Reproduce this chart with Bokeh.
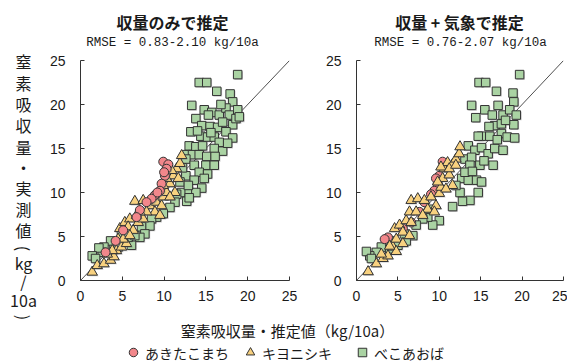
import math
from bokeh.plotting import figure
from bokeh.layouts import column, row
from bokeh.models import Range1d, ColumnDataSource
from bokeh.transform import dodge
from bokeh.embed import file_html
from bokeh.resources import INLINE
from bokeh.core.properties import value

# ---------------- data ----------------
SERIES = ["あきたこまち", "キヨニシキ", "べこあおば"]
PANEL_TITLES = ["収量のみで推定", "収量 + 気象で推定"]
PANEL_RMSE = ["RMSE = 0.83-2.10 kg/10a", "RMSE = 0.76-2.07 kg/10a"]
X_LABEL = "窒素吸収量・推定値（kg/10a）"
Y_LABEL_PARTS = ["窒", "素", "吸", "収", "量", "・", "実", "測", "値", "(", "kg", "/", "10a", ")"]
Y_LABEL_ROTATED = [False] * 9 + [True, False, False, False, True]
TICKS = [0, 5, 10, 15, 20, 25]
ONE_TO_ONE = [0, 25]

# left panel (yield only)
L_AKITA_X = [9.9, 10.5, 10.3, 10.1, 9.7, 9.5, 8.9, 8.5, 7.9, 7.1, 6.7, 5.1, 4.2, 3.0, 10.0, 9.2]
L_AKITA_Y = [13.5, 13.2, 12.7, 11.9, 11.0, 10.2, 9.7, 9.3, 8.9, 8.0, 7.2, 5.7, 4.5, 3.2, 12.3, 10.0]
L_KIYO_X = [1.4, 2.0, 2.8, 3.6, 4.0, 3.2, 4.3, 4.9, 5.5, 4.7, 5.3, 5.9, 5.7, 6.3, 6.9, 7.5, 6.5, 7.5,
            8.3, 8.5, 9.1, 8.9, 9.7, 9.9, 10.3, 10.7, 11.1, 11.5, 11.9, 11.7, 11.3, 10.7, 10.3, 7.9,
            7.1, 4.5, 3.8, 5.1, 5.9, 6.7, 9.5, 10.9, 12.1, 9.9]
L_KIYO_Y = [0.95, 1.7, 1.9, 2.3, 2.7, 3.0, 3.4, 3.8, 4.2, 5.9, 6.6, 7.0, 6.1, 5.7, 6.6, 7.0, 9.0, 9.1,
            8.5, 9.3, 8.9, 7.8, 8.5, 9.5, 10.0, 11.0, 11.9, 12.7, 13.3, 11.6, 10.0, 9.5, 11.6, 7.8,
            7.8, 4.7, 3.4, 4.7, 5.1, 7.4, 7.4, 12.5, 14.2, 10.8]
L_BEKO_X = [18.8, 14.2, 15.1, 16.3, 17.9, 18.2, 13.3, 14.8, 15.7, 16.6, 17.4, 18.8, 17.8, 13.8, 15.3,
            14.5, 15.5, 16.4, 18.2, 18.6, 17.4, 14.4, 15.2, 16.0, 18.2, 16.6, 13.0, 13.8, 14.6, 16.0,
            17.0, 12.6, 13.4, 14.2, 15.1, 16.1, 12.6, 13.6, 15.0, 16.0, 14.2, 15.2, 12.6, 13.6, 14.5,
            11.9, 12.1, 13.0, 13.8, 12.7, 13.0, 11.5, 11.3, 10.7, 9.9, 9.1, 8.5, 8.3, 7.3, 7.7, 7.1,
            6.1, 5.7, 4.9, 4.7, 4.0, 3.6, 2.8, 2.6, 2.2, 1.4, 1.8, 4.5, 5.5, 6.5, 17.0, 19.0, 12.2,
            14.8, 15.6, 17.6, 13.2, 14.0, 16.8, 12.9]
L_BEKO_Y = [23.4, 22.5, 22.5, 21.5, 21.2, 20.3, 19.9, 19.4, 19.1, 18.8, 19.6, 19.4, 18.8, 18.4, 18.8,
            17.6, 17.5, 17.4, 17.7, 18.4, 16.9, 16.4, 16.3, 16.3, 16.2, 15.7, 15.3, 15.2, 15.3, 15.0,
            14.7, 14.3, 14.3, 14.3, 14.1, 14.1, 13.8, 13.1, 13.1, 13.1, 12.3, 12.1, 11.9, 11.4, 10.5,
            11.2, 10.0, 10.0, 10.0, 9.0, 9.4, 9.8, 8.9, 8.3, 7.6, 7.2, 7.0, 6.2, 6.1, 5.3, 4.9,
            4.0, 4.9, 5.3, 4.4, 4.0, 4.5, 3.8, 3.2, 3.7, 2.8, 2.5, 3.8, 5.5, 5.1, 18.0, 18.6, 12.8,
            11.6, 16.8, 15.6, 16.9, 17.0, 20.0, 10.8]

# right panel (yield + weather)
R_AKITA_X = [10.4, 10.0, 9.8, 9.4, 9.0, 8.2, 7.6, 6.6, 5.6, 3.8, 3.4, 9.6]
R_AKITA_Y = [13.5, 11.9, 11.0, 10.2, 9.8, 8.9, 7.8, 6.6, 5.9, 4.9, 4.7, 11.6]
R_KIYO_X = [1.4, 2.4, 3.2, 3.8, 3.0, 4.4, 4.8, 4.6, 5.2, 6.0, 5.6, 6.6, 6.4, 7.2, 6.6, 7.4, 8.2, 9.0,
            8.6, 9.6, 10.0, 10.2, 10.4, 10.6, 11.0, 11.6, 12.0, 12.4, 12.5, 11.2, 11.6, 10.8, 9.8,
            10.2, 9.4, 8.0, 5.6, 4.8, 4.0, 6.4, 11.2, 12.0]
R_KIYO_Y = [1.0, 1.9, 2.5, 2.8, 3.0, 3.8, 4.7, 5.9, 6.3, 6.8, 5.5, 6.6, 7.8, 7.8, 9.1, 9.3, 9.1, 9.5,
            8.1, 8.5, 9.9, 10.6, 11.6, 12.7, 13.4, 13.2, 13.8, 14.4, 15.2, 12.0, 10.8, 10.4, 11.2,
            12.9, 7.8, 7.4, 4.2, 3.3, 3.9, 5.1, 12.7, 13.1]
R_BEKO_X = [19.7, 14.8, 15.6, 16.9, 18.9, 19.0, 13.9, 14.4, 15.5, 16.4, 17.1, 17.7, 18.5, 19.3, 16.7,
            17.5, 19.0, 15.1, 16.1, 14.7, 17.5, 18.2, 19.1, 13.5, 14.3, 15.1, 15.9, 16.7, 17.7, 13.1,
            13.9, 14.9, 16.5, 13.7, 12.7, 13.5, 14.5, 15.1, 14.7, 12.5, 13.7, 12.8, 11.6, 10.0, 9.2,
            8.6, 8.0, 7.2, 6.8, 6.0, 5.8, 5.0, 4.0, 4.0, 3.0, 2.4, 1.6, 1.2, 1.8, 8.8, 12.0, 13.1,
            16.0, 18.0, 15.4, 17.0, 14.0]
R_BEKO_Y = [23.4, 22.5, 22.5, 21.5, 21.3, 20.3, 19.9, 18.5, 19.4, 18.8, 19.9, 18.8, 19.4, 18.8, 17.6,
            17.8, 17.7, 16.4, 16.4, 16.4, 16.7, 16.3, 16.2, 15.3, 14.8, 15.1, 14.4, 15.0, 14.8, 13.8,
            14.0, 13.1, 13.1, 13.1, 11.6, 11.4, 11.4, 11.2, 10.0, 10.0, 9.1, 9.0, 8.4, 6.8, 6.3,
            7.2, 7.0, 6.3, 5.1, 4.5, 5.3, 4.0, 4.5, 3.6, 3.8, 3.2, 2.8, 3.3, 2.5, 8.1, 10.8, 12.3,
            17.5, 18.2, 13.6, 16.0, 12.4]

COLORS = {"あきたこまち": "#f2878b", "キヨニシキ": "#f8d17f", "べこあおば": "#aad3a3"}
MARKERS = {"あきたこまち": "circle", "キヨニシキ": "triangle", "べこあおば": "square"}
SIZES = {"あきたこまち": 9, "キヨニシキ": 10.5, "べこあおば": 8.5}

JP = "Noto Sans CJK JP"
NUM = "Liberation Sans"
MONO = "Liberation Mono"
EDGE = "#333333"
TEXT = "#1a1a1a"

# layout (screen px)
W, H = 567, 362
YLAB_W = 40
HEAD_H = 52
ROW_H = 260
FOOT_H = H - HEAD_H - ROW_H
FRAME_TOP, FRAME_BOTTOM = 8, 32
Y_LABEL_SCREEN_Y = [60, 82, 103, 124, 146, 166, 187, 208, 229, 248, 262, 280, 299, 317]


def blank(width, height):
    p = figure(width=width, height=height, output_backend="svg", toolbar_location=None,
               x_range=Range1d(0, width), y_range=Range1d(0, height),
               x_axis_location=None, y_axis_location=None,
               min_border=0, min_border_left=0, min_border_right=0,
               min_border_top=0, min_border_bottom=0)
    p.outline_line_color = None
    p.grid.visible = False
    return p


def panel(data, order, width, bl, br):
    p = figure(width=width, height=ROW_H, output_backend="svg", toolbar_location=None,
               x_range=Range1d(0, 25), y_range=Range1d(0, 25),
               min_border_left=bl, min_border_right=br,
               min_border_top=FRAME_TOP, min_border_bottom=FRAME_BOTTOM)
    p.outline_line_color = None
    p.grid.visible = False
    for ax in (p.xaxis[0], p.yaxis[0]):
        ax.ticker = TICKS
        ax.major_tick_in = 4
        ax.major_tick_out = 0
        ax.minor_tick_line_color = None
        ax.axis_line_color = EDGE
        ax.major_tick_line_color = EDGE
        ax.major_label_text_font = NUM
        ax.major_label_text_font_size = "14px"
        ax.major_label_text_color = TEXT
    p.xaxis.major_label_standoff = 10
    p.yaxis.major_label_standoff = 15
    p.line(ONE_TO_ONE, ONE_TO_ONE, line_color="#222222", line_width=0.8)
    for name in order:
        xs, ys = data[name]
        src = ColumnDataSource(dict(x=xs, y=ys))
        p.scatter(x=dodge("x", 0.13), y=dodge("y", -0.12), source=src, marker=MARKERS[name],
                  size=SIZES[name], fill_color="#8a8a8a", fill_alpha=0.45, line_color=None)
        p.scatter(x="x", y="y", source=src, marker=MARKERS[name], size=SIZES[name],
                  fill_color=COLORS[name], line_color=EDGE, line_width=1)
    return p


left = panel({"あきたこまち": (L_AKITA_X, L_AKITA_Y), "キヨニシキ": (L_KIYO_X, L_KIYO_Y),
              "べこあおば": (L_BEKO_X, L_BEKO_Y)},
             ["べこあおば", "キヨニシキ", "あきたこまち"], width=322 - YLAB_W, bl=80 - YLAB_W, br=33)
right = panel({"あきたこまち": (R_AKITA_X, R_AKITA_Y), "キヨニシキ": (R_KIYO_X, R_KIYO_Y),
               "べこあおば": (R_BEKO_X, R_BEKO_Y)},
              ["べこあおば", "あきたこまち", "キヨニシキ"], width=W - 322, bl=34, br=4)

# vertical y label: its own full-height strip at the left (parentheses turned for vertical writing)
ylab = blank(YLAB_W, H)
ylab.text(x=[23] * len(Y_LABEL_PARTS), y=[H - s for s in Y_LABEL_SCREEN_Y], text=Y_LABEL_PARTS,
          angle=[-math.pi / 2 if r else 0 for r in Y_LABEL_ROTATED],
          text_font=value(JP), text_font_size=value("16px"), text_color=TEXT,
          text_align="center", text_baseline="middle")

# header with panel titles
RW = W - YLAB_W
head = blank(RW, HEAD_H)
head.text(x=[172 - YLAB_W, 459 - YLAB_W], y=[HEAD_H - 21] * 2, text=PANEL_TITLES, text_font=value(JP),
          text_font_size=value("16px"), text_font_style="bold", text_color=TEXT,
          text_align="center", text_baseline="middle")
head.text(x=[172 - YLAB_W, 460 - YLAB_W], y=[HEAD_H - 42.5] * 2, text=PANEL_RMSE, text_font=value(MONO),
          text_font_size=value("12.5px"), text_color=TEXT,
          text_align="center", text_baseline="middle")

# footer with x label and legend
foot = blank(RW, FOOT_H)
foot.text(x=[287 - YLAB_W], y=[FOOT_H - 18], text=[X_LABEL], text_font=value(JP),
          text_font_size=value("15px"), text_color=TEXT, text_align="center", text_baseline="middle")
leg_x = [133 - YLAB_W, 250 - YLAB_W, 362 - YLAB_W]
leg_y = FOOT_H - 40
for i, name in enumerate(SERIES):
    foot.scatter(x=[leg_x[i]], y=[leg_y], marker=MARKERS[name], size=8.5,
                 fill_color=COLORS[name], line_color=EDGE, line_width=1)
foot.text(x=[v + 11.5 for v in leg_x], y=[leg_y] * 3, text=SERIES, text_font=value(JP),
          text_font_size=value("14px"), text_color=TEXT, text_align="left", text_baseline="middle")

layout = row(ylab, column(head, row(left, right), foot))
open("out.html", "w").write(file_html(layout, INLINE))
